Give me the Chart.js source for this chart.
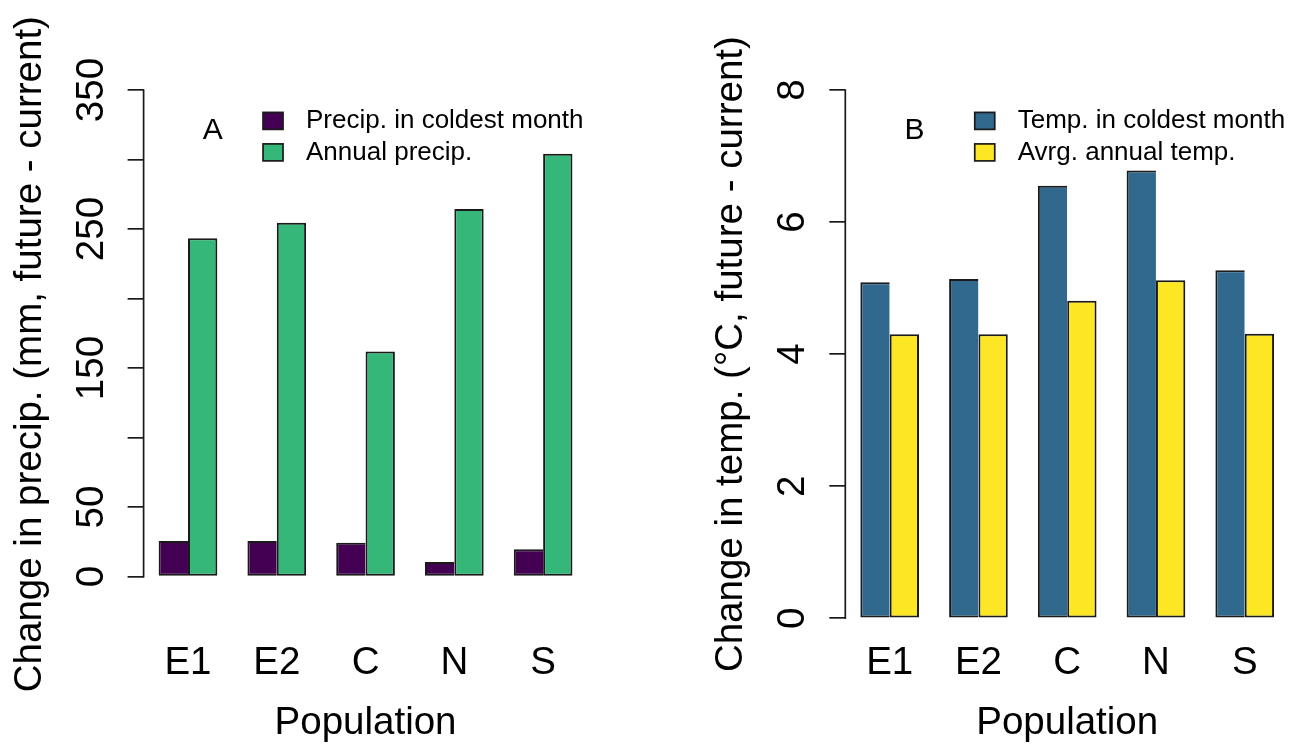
<!DOCTYPE html>
<html>
<head>
<meta charset="utf-8">
<title>Projected climate change by population</title>
<script src="https://cdn.jsdelivr.net/npm/chart.js@4.4.1/dist/chart.umd.min.js"></script>
<style>
  html, body { margin: 0; padding: 0; background: #ffffff; }
  #wrap { position: relative; width: 1306px; height: 744px; overflow: hidden; }
  canvas { position: absolute; top: 0; }
  #precipChart { left: 0; }
  #tempChart { left: 653px; }
</style>
</head>
<body>
<div id="wrap">
  <canvas id="precipChart" width="653" height="744"></canvas>
  <canvas id="tempChart" width="653" height="744"></canvas>
</div>
<script>
// Populations on the x axis
const populations = ['E1', 'E2', 'C', 'N', 'S'];

// Panel A: change in precipitation (mm, future - current)
const precipColdestMonth = [25.6, 25.6, 24.4, 10.5, 19.6];
const precipAnnual = [243.4, 254.6, 161.9, 264.5, 304.2];
const precipTicks = [0, 50, 100, 150, 200, 250, 300, 350];
const precipTickLabels = ['0', '50', '', '150', '', '250', '', '350'];
const precipLimits = [-30, 350];

// Panel B: change in temperature (°C, future - current)
const tempColdestMonth = [5.09, 5.14, 6.55, 6.78, 5.27];
const tempAnnual = [4.30, 4.30, 4.81, 5.12, 4.31];
const tempTicks = [0, 2, 4, 6, 8];
const tempTickLabels = ['0', '2', '4', '6', '8'];
const tempLimits = [0, 8];

// viridis(4)
const VIRIDIS = ['#440154', '#31688E', '#35B779', '#FDE725'];
const FONT = '"Liberation Sans", Arial, Helvetica, sans-serif';
const INK = '#000000';
const EDGE = '#1a1a1a';
const BAR_EDGE = 2;

// 4% range extension on both ends, as in base-graphics plots
function expand(lim) {
  const d = (lim[1] - lim[0]) * 0.04;
  return [lim[0] - d, lim[1] + d];
}

// Axis line that runs only from the first to the last tick
const axisLinePlugin = {
  id: 'axisLine',
  afterDraw(chart) {
    const y = chart.scales.y;
    const ticks = y.ticks.map(t => t.value);
    const x = chart.chartArea.left;
    const ctx = chart.ctx;
    ctx.save();
    ctx.strokeStyle = EDGE;
    ctx.lineWidth = 1.7;
    ctx.beginPath();
    ctx.moveTo(x, y.getPixelForValue(ticks[0]) + 0.85);
    ctx.lineTo(x, y.getPixelForValue(ticks[ticks.length - 1]) - 0.85);
    ctx.stroke();
    ctx.restore();
  }
};

// Box legend in the upper right of the plot region plus the panel tag
const boxLegendPlugin = {
  id: 'boxLegend',
  afterDraw(chart, args, opts) {
    const ctx = chart.ctx;
    const area = chart.chartArea;
    const ds = chart.data.datasets;
    ctx.save();
    ctx.font = '26px ' + FONT;
    const textW = Math.max(...ds.map(d => ctx.measureText(d.label).width));
    const textX = area.right - 4 - textW;
    const rows = [area.top + 52, area.top + 83.5];
    ds.forEach((d, i) => {
      const cy = rows[i];
      ctx.fillStyle = d.backgroundColor;
      ctx.fillRect(textX - 43, cy - 8.5, 20, 17);
      ctx.strokeStyle = EDGE;
      ctx.lineWidth = 1.7;
      ctx.strokeRect(textX - 43, cy - 8.5, 20, 17);
      ctx.fillStyle = INK;
      ctx.textAlign = 'left';
      ctx.textBaseline = 'middle';
      ctx.fillText(d.label, textX, cy);
    });
    // panel tag
    ctx.font = '30px ' + FONT;
    ctx.textAlign = 'center';
    ctx.textBaseline = 'middle';
    ctx.fillStyle = INK;
    ctx.fillText(opts.tag, chart.scales.x.getPixelForValue(opts.tagAt[0]), chart.scales.y.getPixelForValue(opts.tagAt[1]));
    ctx.restore();
  }
};

function makePanel(canvasId, o) {
  const lim = expand(o.limits);
  return new Chart(document.getElementById(canvasId), {
    type: 'bar',
    data: {
      labels: populations,
      datasets: [
        {
          label: o.labels[0], data: o.series[0],
          backgroundColor: o.colors[0], borderColor: EDGE,
          borderWidth: { top: BAR_EDGE, left: BAR_EDGE, bottom: BAR_EDGE, right: 0 },
          borderSkipped: false,
          categoryPercentage: 0.661, barPercentage: 1.0
        },
        {
          label: o.labels[1], data: o.series[1],
          backgroundColor: o.colors[1], borderColor: EDGE,
          borderWidth: BAR_EDGE,
          borderSkipped: false,
          categoryPercentage: 0.661, barPercentage: 1.0
        }
      ]
    },
    options: {
      responsive: false,
      animation: false,
      devicePixelRatio: 1,
      layout: { padding: { top: 68.9, left: 0, right: o.padRight, bottom: 0 } },
      plugins: {
        legend: { display: false },
        tooltip: { enabled: false },
        boxLegend: { tag: o.tag, tagAt: o.tagAt }
      },
      scales: {
        x: {
          type: 'category',
          offset: true,
          grid: { display: false, drawTicks: false },
          border: { display: false },
          ticks: { color: INK, font: { family: FONT, size: 38.5 }, padding: 1, maxRotation: 0, autoSkip: false },
          title: {
            display: true, text: 'Population', color: INK,
            font: { family: FONT, size: 38.5, lineHeight: 1 },
            padding: { top: 0, bottom: 1 }
          },
          afterFit(scale) { scale.height = 104.6; }
        },
        y: {
          type: 'linear',
          min: lim[0], max: lim[1],
          afterBuildTicks(scale) { scale.ticks = o.ticks.map(v => ({ value: v })); },
          grid: {
            display: true, drawOnChartArea: false, drawTicks: true,
            tickLength: 16, color: EDGE, lineWidth: 1.7
          },
          border: { display: false },
          ticks: {
            color: INK, font: { family: FONT, size: 38.5 },
            minRotation: 90, maxRotation: 90,
            crossAlign: 'center', padding: o.tickPad, autoSkip: false,
            callback(value, index) { return o.tickLabels[index]; }
          },
          title: {
            display: true, text: o.yTitle, color: INK,
            font: { family: FONT, size: 38.5, lineHeight: 1 },
            padding: { top: o.titlePad, bottom: 0 }
          },
          afterFit(scale) { scale.width = o.axisWidth; }
        }
      }
    },
    plugins: [axisLinePlugin, boxLegendPlugin]
  });
}

makePanel('precipChart', {
  series: [precipColdestMonth, precipAnnual],
  labels: ['Precip. in coldest month', 'Annual precip.'],
  colors: [VIRIDIS[0], VIRIDIS[2]],
  limits: precipLimits, ticks: precipTicks, tickLabels: precipTickLabels,
  yTitle: 'Change in precip. (mm, future - current)',
  tag: 'A', tagAt: [0.28, 321],
  axisWidth: 143.6, padRight: 65.5, tickPad: 2.8, titlePad: 10.75
});

makePanel('tempChart', {
  series: [tempColdestMonth, tempAnnual],
  labels: ['Temp. in coldest month', 'Avrg. annual temp.'],
  colors: [VIRIDIS[1], VIRIDIS[3]],
  limits: tempLimits, ticks: tempTicks, tickLabels: tempTickLabels,
  yTitle: 'Change in temp. (°C, future - current)',
  tag: 'B', tagAt: [0.28, 7.39],
  axisWidth: 192.3, padRight: 16.9, tickPad: 25.6, titlePad: 59.45
});
</script>
</body>
</html>
